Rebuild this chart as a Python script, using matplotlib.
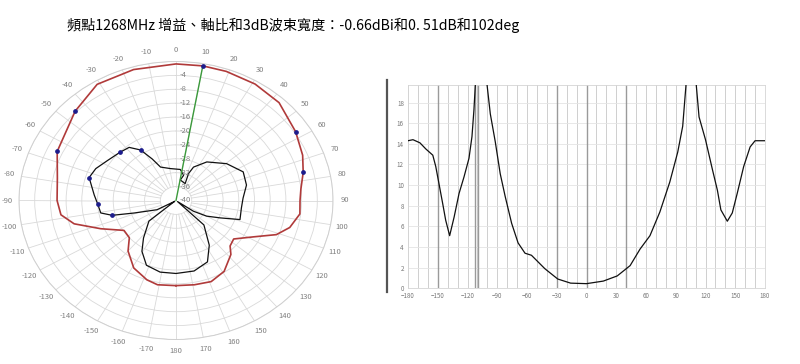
import numpy as np
import matplotlib.pyplot as plt
from matplotlib.lines import Line2D

plt.rcParams['font.family'] = ['Noto Sans CJK TC', 'DejaVu Sans']

title = '頻點1268MHz 增益、軸比和3dB波束寬度：-0.66dBi和0. 51dB和102deg'

# pattern, main polarisation (deg, dB)
gain_deg = [-180, -169, -162, -151, -140, -132, -123, -113, -104.5, -98, -90, -78, -65, -45, -31, -16,
            0, 10, 19, 31, 43, 57, 68, 76, 84, 90, 97, 105, 111, 118, 127, 133.5, 138, 149, 159, 169, 180]
gain_db = [-15.5, -15.3, -16.0, -17.8, -21.0, -24.0, -24.2, -19.2, -13.2, -10.4, -9.7, -9.1, -6.6, -3.66, -1.0, -0.8,
           -0.7, -0.66, -0.7, -0.9, -1.5, -3.66, -5.2, -6.6, -8.0, -8.4, -8.2, -10.0, -12.6, -17.7, -21.6, -21.0, -19.1,
           -16.2, -15.0, -15.3, -15.5]

# pattern, cross polarisation (deg, dB), in drawing order
xpol_deg = [-125, -118.8, -108.6, -104.7, -100.6, -92.7, -85.6, -73.4, -65.8, -56.6, -45.7, -38, -31.8, -26.9,
            -22.3, -8.9, 7, 15, 10.5, 25.6, 22.4, 24.9, 35.3, 50.6, 64.3, 76.1, 87.7, 97.4, 108.6, 114, 120, 124.8,
            128, 134.7, 146.6, 155.6, 167.2, 180, 191.1, 202, 210.7, 217.5, 229.3, 235]
xpol_db = [-39.5, -34.5, -28.7, -23.2, -20.5, -20.0, -19.1, -16.9, -17.6, -19.1, -20.1, -20.6, -22.9, -26.6,
           -29.6, -30.7, -31.0, -32.5, -34.0, -34.6, -31.6, -29.4, -26.4, -23.3, -21.0, -21.5, -22.9, -23.2, -22.8,
           -27.7, -31.0, -34.6, -39.5, -30.0, -24.6, -20.6, -19.2, -19.0, -19.0, -19.9, -23.0, -26.4, -30.9, -39.5]

gain_mark_deg = [-65, -45, 10, 57, 76]
gain_mark_db = [-6.6, -3.66, -0.66, -3.66, -6.6]
xpol_mark_deg = [-104.7, -92.7, -73.4, -45.7, -31.8]
xpol_mark_db = [-23.2, -20.0, -16.9, -20.1, -22.9]
peak_deg = 10
peak_db = -0.66

# axial ratio vs angle
ar_deg = [-180, -175, -168, -162, -155, -152, -148.5, -145, -142, -138, -133.5, -128.5, -123.5, -118.5, -115.5,
          -113.5, -112, -106, -100.5, -97, -92, -87, -82, -75.5, -69, -62, -55.5, -42, -29, -16, 0, 17, 31, 44,
          54, 64, 74, 84, 92, 97, 100.5, 105, 110.5, 113.5, 120, 127, 132, 135.5, 142, 147, 152, 158.5, 165, 170,
          180]
ar_db = [14.3, 14.4, 14.1, 13.5, 12.9, 11.8, 10.0, 8.2, 6.6, 5.1, 6.9, 9.2, 10.8, 12.6, 14.7,
         17.3, 19.9, 24, 19.9, 16.9, 14.2, 11.1, 8.9, 6.3, 4.4, 3.4, 3.2, 1.9, 0.9, 0.5, 0.45, 0.7, 1.2, 2.2,
         3.8, 5.1, 7.4, 10.3, 13.2, 15.7, 19.9, 24, 19.9, 16.6, 14.4, 11.5, 9.5, 7.6, 6.5, 7.3, 9.2, 11.8, 13.7, 14.3,
         14.3]
ar_cursor = [-150, -112, -109, -30, 0, 40]

fig = plt.figure(figsize=(8, 3.64), dpi=100)
fig.text(67 / 800, 1 - 25 / 364, title, fontsize=10.2, ha='left', va='center')

# ---- polar pattern (stretched, like the screenshot) ----
grid_c = '#d9d9d9'
ax = fig.add_axes([19 / 800, 1 - 339.5 / 364, 314 / 800, 278 / 364], projection='polar')
ax.set_theta_zero_location('N')
ax.set_theta_direction(-1)

ax.plot(np.radians(gain_deg), gain_db, color='#b03a3a', lw=1.2, zorder=3)
ax.plot(np.radians(xpol_deg), xpol_db, color='#111111', lw=0.9, zorder=3)
ax.plot(np.radians([peak_deg, peak_deg]), [-40, peak_db], color='#3c9a3c', lw=1.0, zorder=4)
ax.plot(np.radians(gain_mark_deg), gain_mark_db, 'o', color='#1c1c8c', ms=2.4, zorder=5)
ax.plot(np.radians(xpol_mark_deg), xpol_mark_db, 'o', color='#1c1c8c', ms=2.4, zorder=5)

angles = list(range(-170, 181, 10))
for a in angles:
    ax.plot(np.radians([a, a]), [-36, 0], color=grid_c, lw=0.6, zorder=1)

ax.set_xticks(np.radians(np.mod(angles, 360)))
ax.set_xticklabels([str(a) for a in angles], fontsize=5.5, color='#808080')
ax.tick_params(axis='x', length=0, pad=1.5)
ax.set_thetalim(0, 2 * np.pi)
ax.set_ylim(-40, 0)
ax.set_aspect('auto')

ax.set_yticks(range(-40, 1, 4))
ax.set_yticklabels([])
ax.yaxis.grid(True, color=grid_c, lw=0.6)
ax.xaxis.grid(False)
ax.spines['polar'].set_color('#cfcfcf')
ax.spines['polar'].set_linewidth(0.7)
for v in range(-40, -3, 4):
    ax.annotate(str(v), xy=(0, v), xytext=(2.5, 0), textcoords='offset points',
                fontsize=5.5, color='#808080', ha='left', va='center')

# ---- axial ratio ----
ax2 = fig.add_axes([408 / 800, 1 - 288.3 / 364, 357 / 800, 203.3 / 364])
ax2.plot(ar_deg, ar_db, color='#111111', lw=0.9, zorder=3)
ax2.set_xlim(-180, 180)
ax2.set_ylim(0, 19.7)
ax2.set_xticks(range(-180, 181, 30))
ax2.set_xticks(range(-180, 181, 10), minor=True)
ax2.set_yticks(range(0, 19, 2))
ax2.grid(which='both', axis='x', color='#cfcfcf', lw=0.7)
ax2.grid(which='major', axis='y', color='#e4e4e4', lw=0.6)
for x in ar_cursor:
    ax2.axvline(x, color='#9a9a9a', lw=1.0, zorder=2)
ax2.tick_params(which='both', length=0, labelsize=4.5, colors='#777777', pad=3)
for s in ax2.spines.values():
    s.set_color('#d5d5d5')
    s.set_linewidth(0.6)

fig.add_artist(Line2D([387 / 800, 387 / 800], [1 - 292 / 364, 1 - 80 / 364], color='#555555', lw=1.6))

fig.savefig('out.png', dpi=100)
